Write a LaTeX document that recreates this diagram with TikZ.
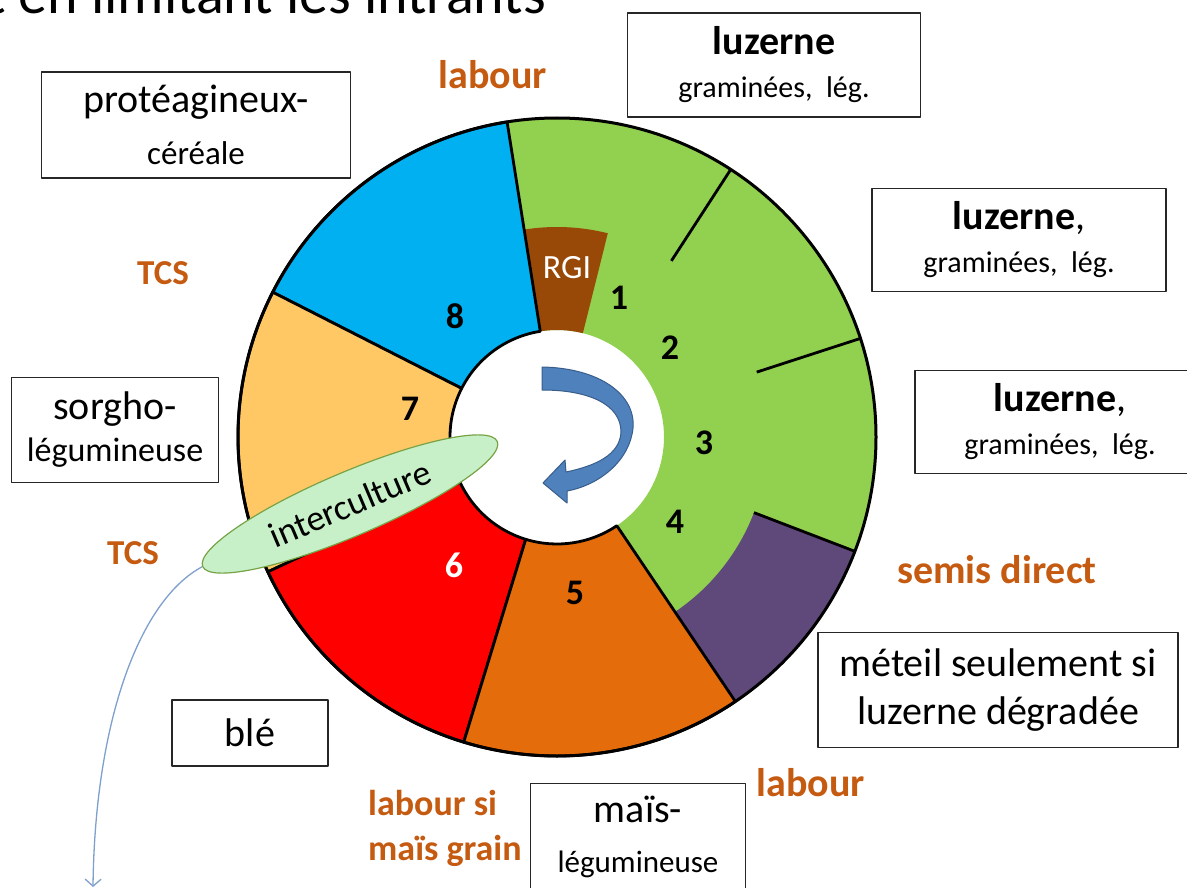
\documentclass[tikz,border=0pt]{standalone}
\usepackage{fontspec}
\setmainfont{Carlito}
\usetikzlibrary{shapes.geometric,arrows.meta}
\definecolor{grass}{HTML}{92D050}
\definecolor{skyblue}{HTML}{00B0F0}
\definecolor{sunny}{HTML}{FFC865}
\definecolor{poppy}{HTML}{FF0000}
\definecolor{rust}{HTML}{E46C0A}
\definecolor{plum}{HTML}{5F497A}
\definecolor{brick}{HTML}{984807}
\definecolor{leaf}{HTML}{C8F0C8}
\definecolor{leafedge}{HTML}{77A346}
\definecolor{tillorange}{HTML}{C55A11}
\definecolor{arrowblue}{HTML}{4F81BD}
\definecolor{arrowedge}{HTML}{385D8A}
\definecolor{linkblue}{HTML}{7F9FCC}
\newcommand{\fsz}[2]{\fontsize{#1}{#2}\selectfont}

\begin{document}
\begin{tikzpicture}[x=1pt,y=-1pt,line join=round,
box/.style={draw=black!85, line width=1.3pt, fill=white, align=center, inner sep=0pt},
tillage/.style={text=tillorange, font=\bfseries\fsz{40}{45}, inner sep=0pt},
num/.style={font=\bfseries\fsz{36}{40}, inner sep=0pt},
sector/.style={draw=black, line width=2.8pt},
link/.style={draw=linkblue, line width=1.3pt, -{Straight Barb[length=7pt,width=16pt]}}]
\useasboundingbox (0,0) rectangle (1187,888);
\clip (0,0) rectangle (1187,888);
\node[anchor=base west, font=\fsz{58}{60}, inner sep=0pt] (title) at (-14,14) {t en limitant les intrants};

% the rotation wheel
\begin{scope}[shift={(557,437)}, yscale=-1]
\fill[grass] (-56:107) arc[start angle=-56, end angle=99, radius=107]
  -- (99:319) arc[start angle=99, end angle=-56, radius=319] -- cycle;
\fill[brick] (76:107) arc[start angle=76, end angle=99, radius=107]
  -- (99:210) arc[start angle=99, end angle=76, radius=210] -- cycle;
\fill[plum] (-56:211) arc[start angle=-56, end angle=-21, radius=211]
  -- (-21:319) arc[start angle=-21, end angle=-56, radius=319] -- cycle;
\foreach \a/\b/\col in {99/153/skyblue, 153/205/sunny, 205/253/poppy, 253/304/rust}
  \filldraw[sector, fill=\col] (\a:107) arc[start angle=\a, end angle=\b, radius=107]
    -- (\b:319) arc[start angle=\b, end angle=\a, radius=319] -- cycle;
\foreach \a/\r in {57/210, 18/210, -21/211}
  \draw[line width=2.8pt] (\a:\r) -- (\a:319);
\draw[line width=3pt] (0,0) circle[radius=319];
\end{scope}

% turning arrow
\filldraw[fill=arrowblue, draw=arrowedge, line width=1pt] (542,367) .. controls (600,368) and (636,395) .. (633,428)
  .. controls (630,460) and (600,485) .. (567,491) -- (567,503) -- (543,483) -- (565,460) -- (566,472)
  .. controls (595,466) and (620,455) .. (621,432) .. controls (621,405) and (590,390) .. (542,390) -- cycle;

\node[font=\fsz{34}{38}, text=white, inner sep=0pt] (rgi) at (567,268) {RGI};
\node[num] (n1) at (619,298) {1};
\node[num] (n2) at (670,348) {2};
\node[num] (n3) at (704,443) {3};
\node[num] (n4) at (675,522) {4};
\node[num] (n5) at (575,593) {5};
\node[num, text=white] (n6) at (454,565) {6};
\node[num] (n7) at (410,409) {7};
\node[num] (n8) at (455,316) {8};

\node[ellipse, draw=leafedge, fill=leaf, line width=1.2pt, minimum width=320pt, minimum height=64pt,
  rotate=23, inner sep=0pt, font=\fsz{36}{40}] (inter) at (350,504) {interculture};
\coordinate (down) at (93,887);
\draw[link] (inter.west) .. controls (140,600) and (95,720) .. (down);

% crops
\node[box, minimum width=309pt, minimum height=106pt, font=\fsz{40}{52}] (prot) at (196,125)
  {\fsz{40}{52}protéagineux-\\\fsz{33}{52}céréale};
\node[box, minimum width=293pt, minimum height=104pt, font=\fsz{40}{43}] (luz1) at (774,65)
  {\bfseries\fsz{40}{43}luzerne\\\fsz{30}{43}graminées,\ \ lég.};
\node[box, minimum width=294pt, minimum height=103pt, font=\fsz{40}{43}] (luz2) at (1019,240)
  {\fsz{40}{43}\textbf{luzerne},\\\fsz{30}{43}graminées,\ \ lég.};
\node[box, minimum width=290pt, minimum height=103pt, font=\fsz{40}{43}] (luz3) at (1060,422)
  {\fsz{40}{43}\textbf{luzerne},\\\fsz{30}{43}graminées,\ \ lég.};
\node[box, minimum width=207pt, minimum height=105pt, font=\fsz{40}{42}] (sorgho) at (115,430)
  {\fsz{40}{42}sorgho-\\\fsz{34}{42}légumineuse};
\node[box, minimum width=360pt, minimum height=115pt, font=\fsz{40}{48}] (meteil) at (998,690)
  {méteil seulement si\\luzerne dégradée};
\node[box, minimum width=156pt, minimum height=66pt, font=\fsz{40}{44}] (ble) at (250,733) {blé};
\node[box, minimum width=215pt, minimum height=107pt, font=\fsz{40}{50}] (mais) at (638,837)
  {\fsz{40}{50}maïs-\\\fsz{31}{50}légumineuse};

% tillage
\node[tillage] (lab1) at (493,75) {labour};
\node[tillage, font=\bfseries\fsz{35}{40}] (tcs1) at (163,273) {TCS};
\node[tillage, font=\bfseries\fsz{35}{40}] (tcs2) at (133,553) {TCS};
\node[tillage] (semis) at (997,570) {semis direct};
\node[tillage] (lab2) at (811,783) {labour};
\node[tillage, font=\bfseries\fsz{36}{45}, align=left, anchor=west] (lab3) at (368,828) {labour si\\maïs grain};
\end{tikzpicture}
\end{document}
